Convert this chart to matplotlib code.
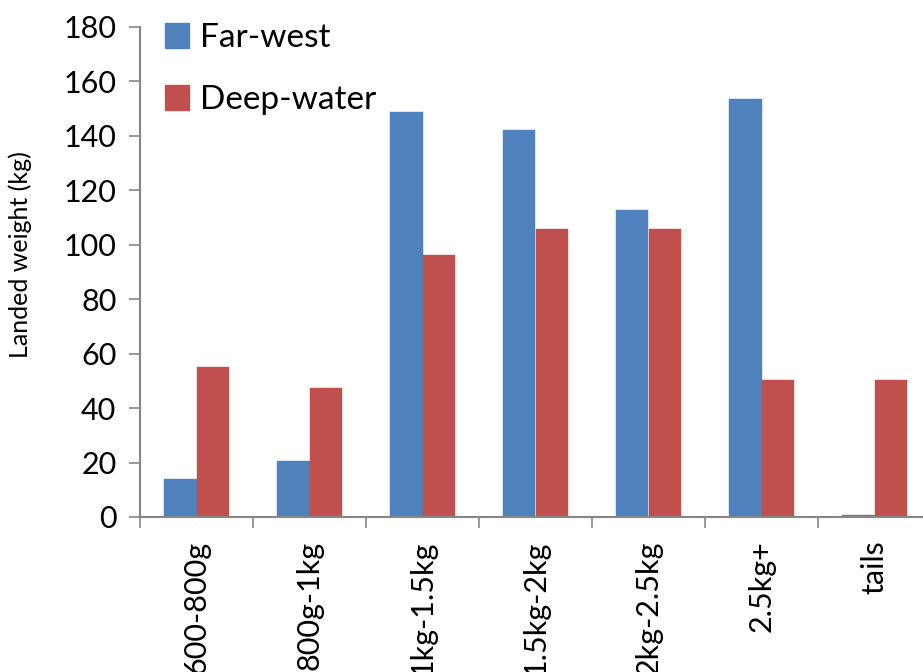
import numpy as np
import matplotlib
matplotlib.use("Agg")
import matplotlib.pyplot as plt
import matplotlib.patches as mpatches

# landed weight by size grade
grades = ["600-800g", "800g-1kg", "1kg-1.5kg", "1.5kg-2kg",
          "2kg-2.5kg", "2.5kg+", "tails"]
far_west = [14, 20.5, 148.8, 142.2, 112.7, 153.6, 0.7]
deep_water = [55.2, 47.4, 96.2, 105.7, 105.7, 50.4, 50.4]

BLUE = "#4F81BD"
RED = "#C0504D"
AXIS_GREY = "#868686"

plt.rcParams["font.family"] = ["Lato", "DejaVu Sans"]

fig = plt.figure(figsize=(9.23, 6.72), dpi=100)
ax = fig.add_axes([140 / 923, 1 - 517 / 672, 791 / 923, 490 / 672])

x = np.arange(len(grades))
w = 0.288
ax.bar(x - w / 2, far_west, width=w, color=BLUE, label="Far-west",
       edgecolor=BLUE, linewidth=0.3)
ax.bar(x + w / 2, deep_water, width=w, color=RED, label="Deep-water",
       edgecolor=RED, linewidth=0.3)

ax.set_xlim(-0.5, len(grades) - 0.5)
ax.set_ylim(0, 180)
ax.set_yticks(np.arange(0, 181, 20))

# category labels at group centres, tick marks at group boundaries
ax.set_xticks(x)
ax.set_xticklabels(grades, rotation=90, fontsize=22, va="top")
ax.set_xticks(np.arange(len(grades)) - 0.5, minor=True)
ax.tick_params(axis="x", which="major", length=0, pad=17)
ax.tick_params(axis="x", which="minor", length=8, color=AXIS_GREY, width=1.2)
ax.tick_params(axis="y", length=8, color=AXIS_GREY, width=1.2,
               labelsize=22, pad=9)

for side in ["top", "right"]:
    ax.spines[side].set_visible(False)
for side in ["left", "bottom"]:
    ax.spines[side].set_color(AXIS_GREY)
    ax.spines[side].set_linewidth(1.5)

ax.set_ylabel("Landed weight (kg)", fontsize=18)
ax.yaxis.set_label_coords(-0.137, 0.535)

handles = [mpatches.Patch(color=BLUE, label="Far-west"),
           mpatches.Patch(color=RED, label="Deep-water")]
ax.legend(handles=handles, loc="upper left", bbox_to_anchor=(-0.006, 1.07),
          frameon=False, fontsize=24, handlelength=0.7, handleheight=0.8,
          handletextpad=0.35, labelspacing=0.95)

fig.savefig("out.png", dpi=100)
